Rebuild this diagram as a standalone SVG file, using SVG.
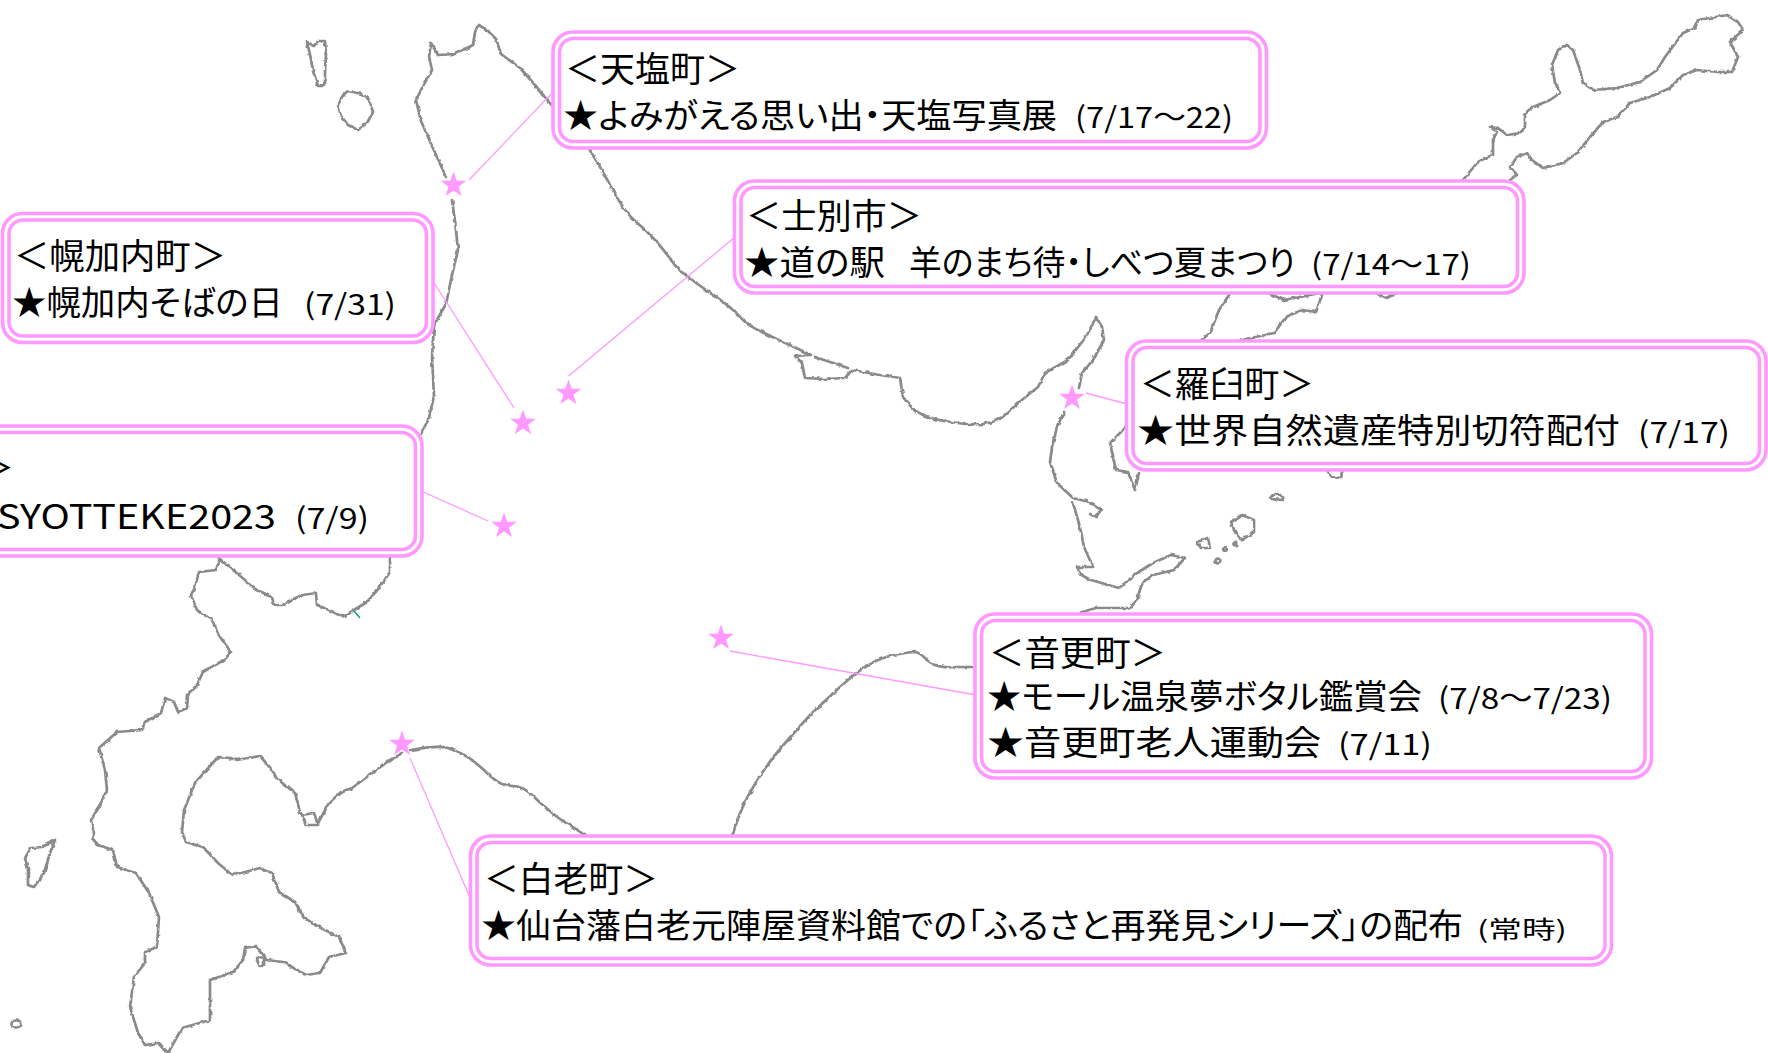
<svg xmlns="http://www.w3.org/2000/svg" xmlns:xlink="http://www.w3.org/1999/xlink" width="1768" height="1053" viewBox="0 0 1768 1053">
<style>
.m{fill:none;stroke:#8a8a8a;stroke-width:2.7;stroke-linejoin:round;stroke-linecap:round}
.c{fill:none;stroke:#ff99ff;stroke-width:1.3}
.o{fill:#fff;stroke:#ff99ff;stroke-width:3.6}
.i{fill:none;stroke:#ff99ff;stroke-width:3.6}
text{font-family:"Noto Sans CJK JP","Noto Sans",sans-serif;fill:#000;font-feature-settings:"palt"}
.h{font-size:35px}.l{font-size:34px}.d{font-size:29px}.t{font-size:24px}
.s{fill:#ff99ff;stroke:#fff;stroke-width:1;paint-order:stroke}
</style>
<defs>
<filter id="soft" x="0" y="0" width="1768" height="1053" filterUnits="userSpaceOnUse" color-interpolation-filters="sRGB">
<feTurbulence type="fractalNoise" baseFrequency="0.18" numOctaves="2" seed="4" result="n"/>
<feDisplacementMap in="SourceGraphic" in2="n" scale="3.2" xChannelSelector="R" yChannelSelector="G"/>
<feGaussianBlur stdDeviation="0.6"/>
</filter>
<polygon id="star" points="0,-13.500 3.200,-4.300 12.800,-4.200 5,1.700 8,11 0,5.400 -8,11 -5,1.700 -12.800,-4.200 -3.200,-4.300"/>
</defs>
<rect width="1768" height="1053" fill="#fff"/>
<g id="map" filter="url(#soft)">
<path class="m" d="M307,42L314,46L318,41L325,41L326,54L325,71L325,86L318,86L313,71L311,59Z"/>
<path class="m" d="M348,91L362,94L369,100L373,112L367,123L358,130L348,125L341,116L338,105L343,95Z"/>
<path class="m" d="M553,107L536,86L520,68L501,54L496,39L486,29L478,25L475,32L473,45L455,54L438,55L431,43L429,57L432,70L423,86L416,100L421,121L432,146L446,177M452,200L455,221L458,250L452,275L446,304L434,325L432,357L434,396L429,418L421,434"/>
<path class="m" d="M588,147L600,167L609,183Q623,210 634,220Q646,230 655,240Q664,250 671,260Q678,270 687,276Q696,283 706,290Q717,297 727,305Q737,313 742,319Q747,325 760,331Q774,338 792,346L811,355L795,356L802,363L805,378L825,379L845,378L852,370L880,375L900,378L903,397Q912,410 923,415Q935,420 951,422Q967,425 983,424Q999,422 1008,412Q1018,403 1028,395L1038,387L1045,373L1068,360L1086,337L1096,317L1102,327L1104,340L1093,360L1082,373L1079,388"/>
<path class="m" d="M815,357L848,368"/>
<path class="m" d="M1064,412L1057,427L1052,447L1050,462L1057,483L1073,498L1089,502L1101,510L1096,517L1090,514M1073,503L1080,527L1084,547L1093,567L1077,567L1081,575L1091,580L1119,588L1137,573L1153,563L1171,555L1185,558L1174,570L1153,575L1142,583L1137,600L1130,608L1096,608L1082,612"/>
<path class="m" d="M1126,427L1110,443L1116,470L1128,472L1135,490L1139,473"/>
<path class="m" d="M1325,468L1332,477L1341,478L1343,468"/>
<path class="m" d="M1270,497L1277,493L1283,497L1283,500L1272,499Z"/>
<path class="m" d="M1231,522L1242,515L1254,520L1254,532L1242,540L1235,532Z"/>
<path class="m" d="M1197,542L1208,538L1210,548L1201,548Z"/>
<circle class="m" cx="1235" cy="544" r="1.4"/><circle class="m" cx="1225" cy="549" r="1.8"/><circle class="m" cx="1218" cy="561" r="2.4"/>
<path class="m" d="M1231,292L1219,310L1210,333L1199,342"/>
<path class="m" d="M1233,342L1274,333L1286,317L1302,310L1316,312L1322,295"/>
<path class="m" d="M1261,290L1284,300L1320,293"/>
<path class="m" d="M1373,292L1387,298L1398,292"/>
<path class="m" d="M1463,180L1477,163L1485,158L1493,155L1493,140L1497,132L1490,127L1498,128L1507,135L1520,133L1525,127L1525,113L1533,107L1550,100L1560,93L1555,83L1552,65L1558,50L1567,45L1573,50L1580,70L1583,83L1593,90L1617,88L1640,82L1657,70L1665,57L1683,33L1695,28L1698,20L1727,15L1738,22L1743,30L1730,42L1738,57L1732,72L1718,72L1697,70L1683,75L1670,88L1650,97L1630,103L1617,117L1603,122L1590,137L1577,153L1563,163L1543,168L1532,160L1527,153L1517,157L1510,167L1517,175L1510,180"/>
<path class="m" d="M390,555L390,572L379,588L367,602L354,610L343,617L329,610L317,605L316,593L302,595L287,602L283,605L274,605L272,597L253,588L245,580L233,570L220,559L216,570L199,572L195,587L191,595L197,610L212,620L220,637L231,652L224,660L203,672L197,685L188,695L187,708L178,712L174,702L165,698L161,713L145,722L142,730L117,732L99,748L105,770L107,790L99,807L91,820L94,833L92,838L98,845L113,850L117,867L136,873L149,893L159,917L157,947L145,952L145,963L134,977L130,1007L138,1033L145,1045L159,1043L168,1053L182,1028L210,1020L210,980L233,972L243,960L245,948L256,946L264,955L266,960L283,962L306,975L320,973L329,957L346,953L339,937L321,928L304,918L295,902L279,892L272,873L260,868L245,872L232,875L218,863L203,847L186,842L182,832L184,810L195,783L218,757L230,758L237,760L260,756L272,770L276,778L295,793L300,812L302,815L314,813L318,825L306,825L302,815M318,823L329,803L341,792L352,788L390,760L402,753M411,750Q438,745 448,748Q459,752 468,757Q476,763 484,770Q492,778 498,782Q505,786 514,786Q524,787 532,795Q540,803 551,812Q563,822 570,825L586,836"/>
<path class="m" d="M256,958L264,957L264,965L260,967Z"/>
<path class="m" d="M25,858L31,848L42,847L55,840L50,853L44,873L34,887L28,885L28,870Z"/>
<ellipse class="m" cx="16" cy="1024" rx="4.5" ry="3.5"/>
<path class="m" d="M732,837Q739,813 747,798Q755,783 764,770Q773,757 786,742Q799,727 812,713Q826,700 840,687Q853,675 866,666Q880,658 894,655Q909,652 915,652Q920,653 925,658Q929,663 935,665Q942,668 957,667L973,667"/>
</g>
<path d="M354,611L360,618" stroke="#00a060" stroke-width="1.3" fill="none"/>
<g id="connectors">
<path class="c" d="M554,91L469,180"/>
<path class="c" d="M431,278L514,408"/>
<path class="c" d="M421,491L488,521"/>
<path class="c" d="M735,237L568.5,376"/>
<path class="c" d="M1086,393L1127,404"/>
<path class="c" d="M730,651L976,695"/>
<path class="c" d="M410,758L471,900"/>
</g>
<g id="stars">
<use class="s" xlink:href="#star" href="#star" x="453.5" y="185"/>
<use class="s" xlink:href="#star" href="#star" x="568.5" y="393"/>
<use class="s" xlink:href="#star" href="#star" x="523" y="423"/>
<use class="s" xlink:href="#star" href="#star" x="504" y="526"/>
<use class="s" xlink:href="#star" href="#star" x="1072" y="398"/>
<use class="s" xlink:href="#star" href="#star" x="721" y="638"/>
<use class="s" xlink:href="#star" href="#star" x="402" y="744"/>
</g>
<g id="node-teshio">
<rect class="o" x="553" y="32" width="713.500" height="116" rx="20"/>
<rect class="i" x="559.500" y="38.500" width="700.500" height="103" rx="14"/>
<text class="h" x="565" y="82" textLength="175" lengthAdjust="spacingAndGlyphs">＜天塩町＞</text>
<text class="l" x="563" y="128" textLength="494" lengthAdjust="spacingAndGlyphs">★よみがえる思い出・天塩写真展</text>
<text class="d" x="1075" y="128" textLength="158" lengthAdjust="spacingAndGlyphs">(7/17～22)</text>
</g>
<g id="node-shibetsu">
<rect class="o" x="734.500" y="181" width="789.500" height="112" rx="20"/>
<rect class="i" x="741" y="187.500" width="776.500" height="99" rx="14"/>
<text class="h" x="746" y="229" textLength="176" lengthAdjust="spacingAndGlyphs">＜士別市＞</text>
<text class="l" x="744" y="275" textLength="141" lengthAdjust="spacingAndGlyphs">★道の駅</text>
<text class="l" x="909" y="275" textLength="386" lengthAdjust="spacingAndGlyphs">羊のまち待・しべつ夏まつり</text>
<text class="d" x="1311" y="275" textLength="160" lengthAdjust="spacingAndGlyphs">(7/14～17)</text>
</g>
<g id="node-rausu">
<rect class="o" x="1126.500" y="341" width="639.500" height="129" rx="20"/>
<rect class="i" x="1133" y="347.500" width="626.500" height="116" rx="14"/>
<text class="h" x="1140" y="397" textLength="174" lengthAdjust="spacingAndGlyphs">＜羅臼町＞</text>
<text class="l" x="1137" y="443" textLength="483" lengthAdjust="spacingAndGlyphs">★世界自然遺産特別切符配付</text>
<text class="d" x="1638" y="443" textLength="92" lengthAdjust="spacingAndGlyphs">(7/17)</text>
</g>
<g id="node-horokanai">
<rect class="o" x="2.500" y="213.500" width="430.500" height="129" rx="20"/>
<rect class="i" x="9" y="220" width="417.500" height="116" rx="14"/>
<text class="h" x="14" y="269" textLength="212" lengthAdjust="spacingAndGlyphs">＜幌加内町＞</text>
<text class="l" x="12" y="315" textLength="271" lengthAdjust="spacingAndGlyphs">★幌加内そばの日</text>
<text class="d" x="304" y="315" textLength="92" lengthAdjust="spacingAndGlyphs">(7/31)</text>
</g>
<g id="node-clipped">
<rect class="o" x="-40" y="426" width="462" height="130" rx="20"/>
<rect class="i" x="-40" y="432.500" width="455.500" height="117" rx="14"/>
<text class="h" x="-21" y="481">＞</text>
<text class="l" x="-3" y="529" textLength="279" lengthAdjust="spacingAndGlyphs">SYOTTEKE2023</text>
<text class="d" x="295" y="529" textLength="74" lengthAdjust="spacingAndGlyphs">(7/9)</text>
</g>
<g id="node-otofuke">
<rect class="o" x="975" y="614" width="676.500" height="164" rx="20"/>
<rect class="i" x="981.500" y="620.500" width="663.500" height="151" rx="14"/>
<text class="h" x="989" y="666" textLength="177" lengthAdjust="spacingAndGlyphs">＜音更町＞</text>
<text class="l" x="987" y="709" textLength="435" lengthAdjust="spacingAndGlyphs">★モール温泉夢ボタル鑑賞会</text>
<text class="d" x="1438" y="709" textLength="174" lengthAdjust="spacingAndGlyphs">(7/8～7/23)</text>
<text class="l" x="987" y="755" textLength="334" lengthAdjust="spacingAndGlyphs">★音更町老人運動会</text>
<text class="d" x="1338" y="755" textLength="94" lengthAdjust="spacingAndGlyphs">(7/11)</text>
</g>
<g id="node-shiraoi">
<rect class="o" x="470.500" y="836" width="1141" height="129" rx="20"/>
<rect class="i" x="477" y="842.500" width="1128" height="116" rx="14"/>
<text class="h" x="484" y="892" textLength="174" lengthAdjust="spacingAndGlyphs">＜白老町＞</text>
<text class="l" x="481" y="938" textLength="982" lengthAdjust="spacingAndGlyphs">★仙台藩白老元陣屋資料館での「ふるさと再発見シリーズ」の配布</text>
<text class="t" x="1477" y="938" textLength="90" lengthAdjust="spacingAndGlyphs">(常時)</text>
</g>
</svg>
